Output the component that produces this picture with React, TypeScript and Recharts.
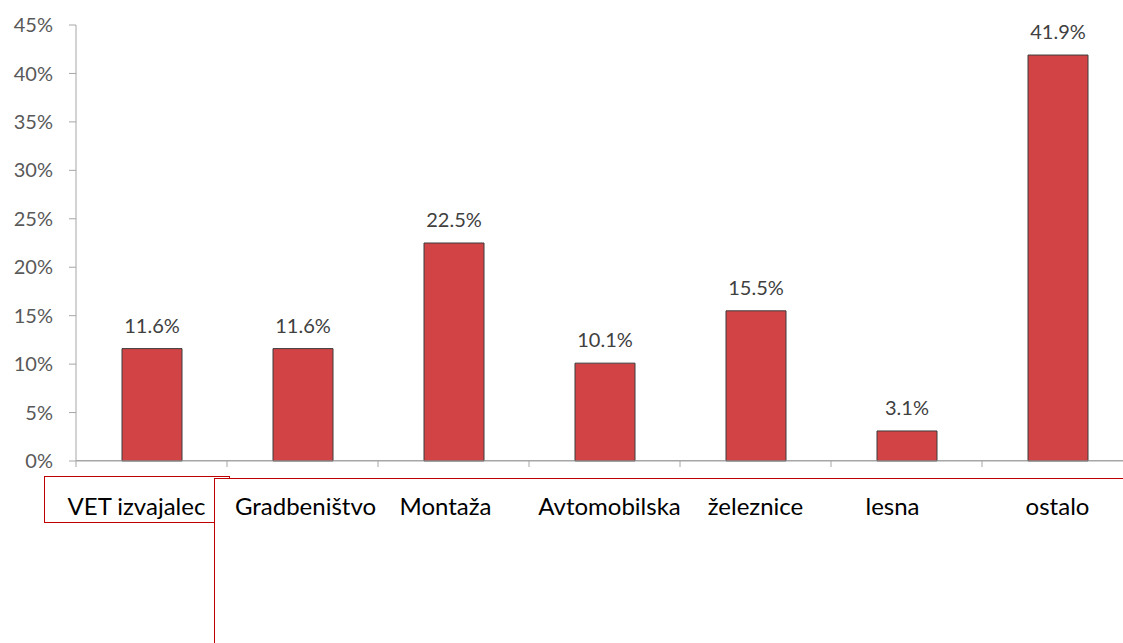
import React from "react";
import { BarChart, Bar, XAxis, YAxis, LabelList } from "recharts";

const categories = ["VET izvajalec", "Gradbeništvo", "Montaža", "Avtomobilska", "železnice", "lesna", "ostalo"];
const shares = [11.6, 11.6, 22.5, 10.1, 15.5, 3.1, 41.9];
const yTicks = [0, 5, 10, 15, 20, 25, 30, 35, 40, 45];

// horizontal nudges of the category text boxes (layout only)
const labelNudge = [-15, 3, -8, 5, 0, -14, 0];

const data = categories.map((c, i) => ({ name: c, value: shares[i] }));

const AXIS = "#a6a6a6";
const FONT = "Lato, 'Open Sans', sans-serif";

const CatTick = (props: any) => {
  const { x, y, payload, index } = props;
  const half = payload && payload.offset ? payload.offset : 75.5;
  const dx = labelNudge[index] || 0;
  return (
    <g>
      <line x1={x - half} y1={y - 6} x2={x - half} y2={y} stroke={AXIS} strokeWidth={1} />
      <text x={x + dx} y={y + 48} textAnchor="middle" fill="#000" fontSize={24} fontFamily={FONT}>
        {payload.value}
      </text>
    </g>
  );
};

export default function App() {
  return (
    <div style={{ position: "fixed", left: 0, top: 0, width: 1123, height: 643, overflow: "hidden", background: "#fff" }}>
      <div style={{ position: "absolute", left: 76, top: 460, width: 1100, height: 1, background: AXIS }} />
      <div style={{ position: "absolute", left: 44, top: 476, width: 186, height: 47, border: "1px solid #c00000", boxSizing: "border-box" }} />
      <div style={{ position: "absolute", left: 214, top: 478, width: 1000, height: 300, border: "1px solid #c00000", background: "#fff", boxSizing: "border-box" }} />
      <div style={{ position: "absolute", left: 8, top: 8 }}>
        <BarChart width={1130} height={520} data={data} margin={{ top: 17, right: 5, left: 0, bottom: 0 }} barCategoryGap={0}>
          <XAxis
            dataKey="name"
            stroke={AXIS}
            tickSize={6}
            tickMargin={0}
            height={67}
            tickLine={false}
            tick={<CatTick />}
            interval={0}
          />
          <YAxis
            width={68}
            domain={[0, 45]}
            ticks={yTicks}
            interval={0}
            stroke={AXIS}
            tickSize={7}
            tickMargin={16}
            tickFormatter={(v: number) => `${v}%`}
            tick={{ fill: "#595959", fontSize: 20, fontFamily: FONT }}
          />
          <Bar dataKey="value" fill="#d14344" stroke="#3d3d3d" strokeWidth={1} barSize={60} isAnimationActive={false}>
            <LabelList
              dataKey="value"
              position="top"
              offset={16}
              formatter={(v: number) => `${v.toFixed(1)}%`}
              fill="#404040"
              fontSize={20}
              fontFamily={FONT}
            />
          </Bar>
        </BarChart>
      </div>
    </div>
  );
}
